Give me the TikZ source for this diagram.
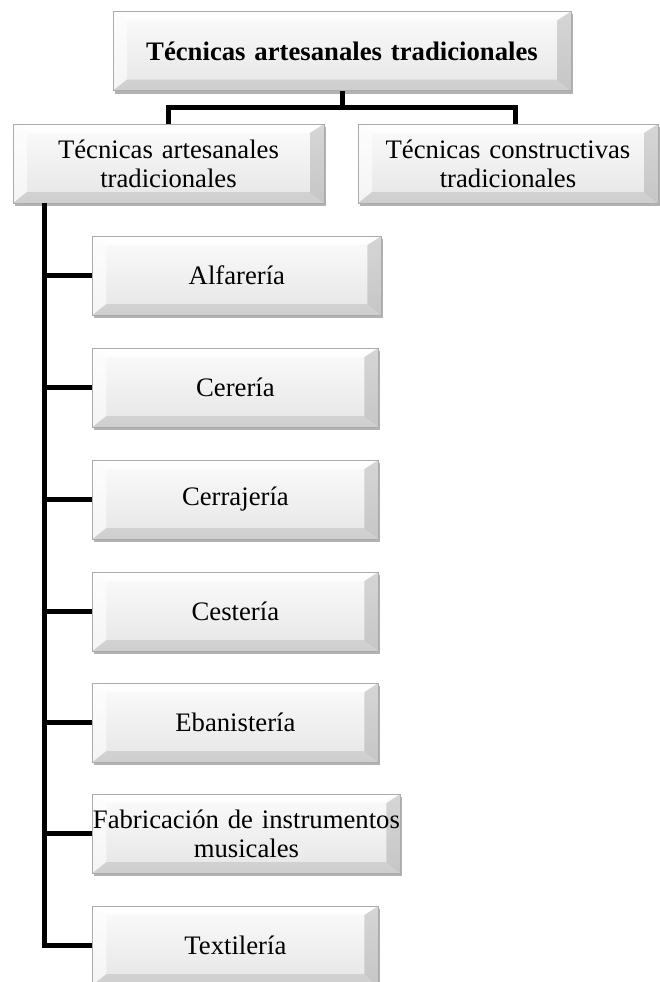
\documentclass[tikz,border=0pt]{standalone}
\usepackage{fontspec}
\setmainfont{Liberation Serif}
\usetikzlibrary{positioning, calc, shadows}
\tikzset{
    bevelbox/.style={draw=gray!65, line width=0.8pt, inner sep=0pt, align=center,
        text width=#1, minimum height=79pt, font=\fontsize{26.7}{29}\selectfont,
        top color=gray!3, bottom color=gray!20,
        drop shadow={shadow xshift=2pt, shadow yshift=-3pt, opacity=0.3, fill=black},
        path picture={
            \coordinate (pa) at (path picture bounding box.north west);
            \coordinate (pb) at (path picture bounding box.north east);
            \coordinate (pc) at (path picture bounding box.south east);
            \coordinate (pd) at (path picture bounding box.south west);
            \coordinate (qa) at ($(pa)+(14pt,-9pt)$);
            \coordinate (qb) at ($(pb)+(-14pt,-9pt)$);
            \coordinate (qc) at ($(pc)+(-14pt,11pt)$);
            \coordinate (qd) at ($(pd)+(14pt,11pt)$);
            \fill[white, opacity=0.8] (pa) -- (pb) -- (qb) -- (qa) -- cycle;
            \fill[white, opacity=0.6] (pa) -- (qa) -- (qd) -- (pd) -- cycle;
            \fill[gray, opacity=0.3] (pb) -- (pc) -- (qc) -- (qb) -- cycle;
            \fill[gray, opacity=0.22] (pd) -- (qd) -- (qc) -- (pc) -- cycle;
        }},
    bevelbox/.default=286pt,
    titlebox/.style={bevelbox=458pt, font=\fontsize{26.7}{29}\selectfont\bfseries},
    link/.style={line width=5pt, black}
}

\begin{document}
\begin{tikzpicture}[x=1pt, y=-1pt]
    \useasboundingbox (0,0) rectangle (660,982);

    % top and second row
    \node[titlebox] (title) at (342,51) {Técnicas artesanales tradicionales};
    \node[bevelbox=311pt] (artes) at (168.5,163.5) {Técnicas artesanales\\ tradicionales};
    \node[bevelbox=300pt] (constr) at (508,163.5) {Técnicas constructivas\\ tradicionales};

    % crafts
    \node[bevelbox=289pt, anchor=west] (alfa) at (92,275.5) {Alfarería};
    \node[bevelbox, anchor=west] (cere) at (92,387.5) {Cerería};
    \node[bevelbox, anchor=west] (cerra) at (92,499.5) {Cerrajería};
    \node[bevelbox, anchor=west] (cest) at (92,611.5) {Cestería};
    \node[bevelbox, anchor=west] (eban) at (92,722.5) {Ebanistería};
    \node[bevelbox=308pt, anchor=west] (fabr) at (92,833.5) {Fabricación de instrumentos\\ musicales};
    \node[bevelbox, anchor=west] (textil) at (92,945.5) {Textilería};

    % connectors
    \draw[link] (title.south) -- ++(0pt,-17pt) coordinate (fork);
    \draw[link] (artes.north) |- (fork) -| ([xshift=7pt]constr.north);
    \coordinate (spine) at ([xshift=32pt]artes.south west);
    \draw[link] (spine) |- (textil.west);
    \foreach \n in {alfa, cere, cerra, cest, eban, fabr}
        \draw[link] (spine |- \n.west) -- (\n.west);
\end{tikzpicture}
\end{document}
